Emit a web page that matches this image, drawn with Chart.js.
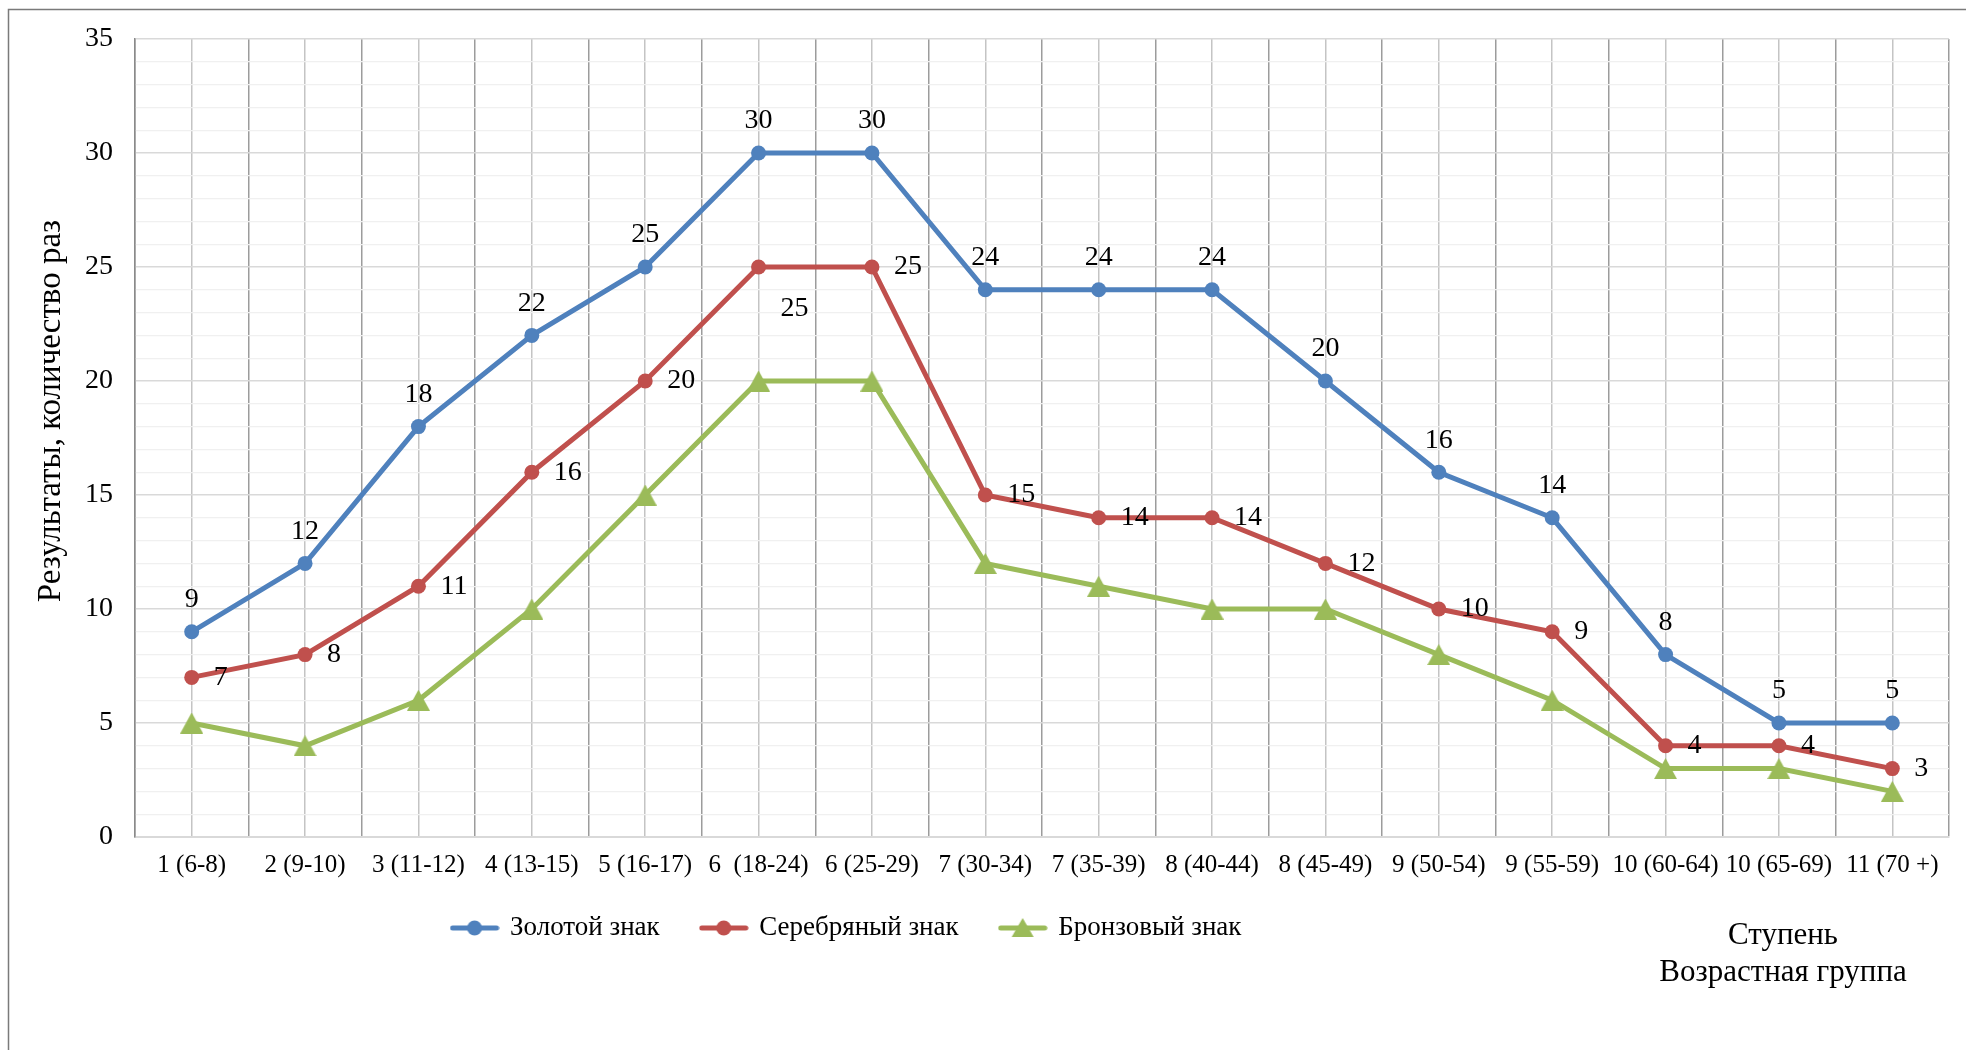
<!DOCTYPE html>
<html>
<head>
<meta charset="utf-8">
<script src="https://cdn.jsdelivr.net/npm/chart.js@4.4.1/dist/chart.umd.min.js"></script>
<style>
html,body{margin:0;padding:0;background:#fff;overflow:hidden}
#wrap{width:1966px;height:1050px;position:relative}
</style>
</head>
<body>
<div id="wrap"><canvas id="c" width="1966" height="1050"></canvas></div>
<script>
// ---- data ----
const categories = ['1 (6-8)','2 (9-10)','3 (11-12)','4 (13-15)','5 (16-17)','6  (18-24)','6 (25-29)','7 (30-34)','7 (35-39)','8 (40-44)','8 (45-49)','9 (50-54)','9 (55-59)','10 (60-64)','10 (65-69)','11 (70 +)'];
const gold   = [9,12,18,22,25,30,30,24,24,24,20,16,14,8,5,5];
const silver = [7,8,11,16,20,25,25,15,14,14,12,10,9,4,4,3];
const bronze = [5,4,6,10,15,20,20,12,11,10,10,8,6,3,3,2];
const seriesNames = ['Золотой знак','Серебряный знак','Бронзовый знак'];
const yTickLabels = [0,5,10,15,20,25,30,35];
const yTitle = 'Результаты, количество раз';
const xTitle = ['Ступень','Возрастная группа'];

// ---- styles ----
const FONT = "'Liberation Serif', 'Times New Roman', serif";
const BLUE = '#4f81bd', RED = '#c0504d', GREEN = '#9bbb59';

function triangleImg(color, w, h) {
  const c = document.createElement('canvas'); c.width = w; c.height = h;
  const g = c.getContext('2d'); g.fillStyle = color;
  g.beginPath(); g.moveTo(w/2, 0); g.lineTo(w, h); g.lineTo(0, h); g.closePath(); g.fill();
  return c;
}
function legendIcon(color, kind) {
  const c = document.createElement('canvas'); c.width = 50; c.height = 22;
  const g = c.getContext('2d');
  g.strokeStyle = color; g.lineWidth = 5; g.lineCap = 'round';
  g.beginPath(); g.moveTo(3, 11); g.lineTo(47, 11); g.stroke();
  g.fillStyle = color;
  if (kind === 'circle') { g.beginPath(); g.arc(25, 11, 7.5, 0, Math.PI*2); g.fill(); }
  else { g.beginPath(); g.moveTo(25, 1); g.lineTo(36, 20); g.lineTo(14, 20); g.closePath(); g.fill(); }
  return c;
}
const icons = [legendIcon(BLUE,'circle'), legendIcon(RED,'circle'), legendIcon(GREEN,'tri')];
const triPoint = triangleImg(GREEN, 23, 21);

const framePlugin = {
  id: 'frame',
  beforeDraw(chart) {
    const ctx = chart.ctx; ctx.save();
    ctx.fillStyle = '#fff'; ctx.fillRect(0, 0, chart.width, chart.height);
    ctx.strokeStyle = '#7a7a7a'; ctx.lineWidth = 1.5;
    ctx.strokeRect(8.5, 9.5, chart.width + 50, chart.height + 50);
    ctx.restore();
  }
};

const legendPlacer = {
  id: 'legendPlacer',
  afterLayout(chart) {
    const lg = chart.legend; if (!lg) return;
    const w = lg.right - lg.left, h = lg.bottom - lg.top;
    const cx = 847, cy = 928;
    const pad = lg.options.labels.padding;
    lg.left = cx - w/2; lg.right = cx + w/2;
    lg.top = cy - pad - 13.5; lg.bottom = lg.top + h;
  }
};

const valueLabels = {
  id: 'valueLabels',
  afterDatasetsDraw(chart) {
    const ctx = chart.ctx; ctx.save();
    ctx.font = '28px ' + FONT; ctx.fillStyle = '#000'; ctx.textBaseline = 'middle';
    ctx.textAlign = 'center';
    chart.getDatasetMeta(0).data.forEach((p, i) => ctx.fillText(String(gold[i]), p.x, p.y - 32));
    ctx.textAlign = 'left';
    chart.getDatasetMeta(1).data.forEach((p, i) => ctx.fillText(String(silver[i]), p.x + 22, p.y + (i === 5 ? 42 : 0)));
    ctx.restore();
  }
};

const axisTitles = {
  id: 'axisTitles',
  afterDraw(chart) {
    const ctx = chart.ctx, a = chart.chartArea; ctx.save();
    ctx.fillStyle = '#000'; ctx.textAlign = 'center'; ctx.textBaseline = 'middle';
    ctx.font = '31px ' + FONT;
    const x = a.right - 166;
    ctx.fillText(xTitle[0], x, a.bottom + 99);
    ctx.fillText(xTitle[1], x, a.bottom + 136);
    ctx.translate(51, (a.top + a.bottom) / 2 - 27);
    ctx.rotate(-Math.PI / 2);
    ctx.font = '33px ' + FONT;
    ctx.fillText(yTitle, 0, 0);
    ctx.restore();
  }
};

new Chart(document.getElementById('c'), {
  type: 'line',
  data: {
    labels: categories,
    datasets: [
      { label: seriesNames[0], data: gold, borderColor: BLUE, backgroundColor: BLUE, pointBackgroundColor: BLUE, pointBorderColor: BLUE, borderWidth: 5, pointRadius: 7.5, pointBorderWidth: 0, pointStyle: 'circle', tension: 0 },
      { label: seriesNames[1], data: silver, borderColor: RED, backgroundColor: RED, pointBackgroundColor: RED, pointBorderColor: RED, borderWidth: 5, pointRadius: 7.5, pointBorderWidth: 0, pointStyle: 'circle', tension: 0 },
      { label: seriesNames[2], data: bronze, borderColor: GREEN, backgroundColor: GREEN, pointBackgroundColor: GREEN, pointBorderColor: GREEN, borderWidth: 5, pointRadius: 11, pointBorderWidth: 0, pointStyle: triPoint, tension: 0 }
    ]
  },
  options: {
    responsive: false, animation: false, devicePixelRatio: 1,
    layout: { padding: { left: 0, top: 39, right: 17, bottom: 0 } },
    plugins: {
      tooltip: { enabled: false },
      legend: {
        position: 'bottom',
        labels: {
          usePointStyle: true, pointStyleWidth: 44, padding: 42,
          font: { family: FONT, size: 27 }, color: '#000',
          generateLabels(chart) {
            const items = Chart.defaults.plugins.legend.labels.generateLabels(chart);
            items.forEach((it, i) => { it.pointStyle = icons[i]; });
            return items;
          }
        }
      }
    },
    scales: {
      x: {
        type: 'category', offset: true,
        grid: { offset: true, color: '#9c9c9c', lineWidth: 1.5, drawTicks: false },
        border: { display: true, color: '#d9d9d9', width: 2 },
        ticks: { autoSkip: false, maxRotation: 0, minRotation: 0, padding: 13, color: '#000', font: { family: FONT, size: 25 } },
        afterFit(s) { s.height = 134; }
      },
      xc: {
        type: 'category', position: 'bottom', offset: true,
        grid: { offset: false, color: '#c4c4c4', lineWidth: 1.5, drawTicks: false },
        border: { display: false },
        ticks: { display: false },
        afterFit(s) { s.height = 0; }
      },
      y: {
        type: 'linear', min: 0, max: 35,
        border: { display: true, color: '#8a8a8a', width: 1.5 },
        grid: {
          drawTicks: false,
          color: (c) => (c.tick && c.tick.value % 5 === 0) ? '#d9d9d9' : '#f0f0f0',
          lineWidth: (c) => (c.tick && c.tick.value % 5 === 0) ? 1.5 : 1.2
        },
        ticks: {
          stepSize: 1, autoSkip: false, padding: 22, color: '#000',
          font: { family: FONT, size: 28 },
          callback: (v) => yTickLabels.includes(v) ? String(v) : ''
        },
        afterFit(s) { s.width = 135; }
      }
    }
  },
  plugins: [framePlugin, legendPlacer, valueLabels, axisTitles]
});
</script>
</body>
</html>
